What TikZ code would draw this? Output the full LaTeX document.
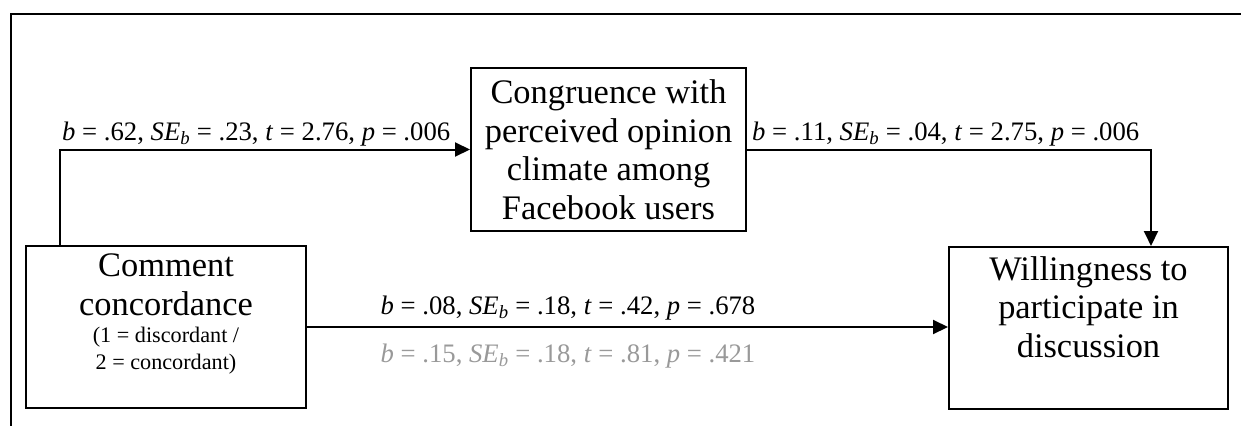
\documentclass[tikz,border=0pt]{standalone}
\usepackage{fontspec}
\setmainfont{Liberation Serif}
\usetikzlibrary{arrows.meta}

\newcommand{\boxfont}{\fontsize{34.4}{38.5}\selectfont}
\newcommand{\labfont}{\fontsize{26.7}{30}\selectfont}
\newcommand{\smallfont}{\fontsize{22.2}{27}\selectfont}
\newcommand{\stat}[4]{\textit{b} = #1, \textit{SE}\textsubscript{\textit{b}} = #2, \textit{t} = #3, \textit{p} = #4}
% invisible strut that adds depth below the last line of a box
\newcommand{\lowstrut}[1]{\rule[-#1]{0pt}{1pt}}

\tikzset{
  varbox/.style={draw, line width=2pt, rectangle, align=center, inner sep=0pt, font=\boxfont},
  arr/.style={line width=2pt, -{Triangle[length=15pt,width=14pt]}},
  lab/.style={inner sep=0pt, font=\labfont},
}

\begin{document}
\begin{tikzpicture}[x=1pt,y=-1pt]
  \useasboundingbox (0,0) rectangle (1241,426);

  % partial frame: top and left edge
  \draw[line width=2pt] (1241,14) -- (11,14) -- (11,426);

  % variables
  \node[varbox, text width=270pt, align=flush center, minimum width=280pt, minimum height=162pt] (cc) at (166,327)
    {Comment\\concordance\par
     {\smallfont (1 = discordant /\\2 = concordant)\lowstrut{31pt}\par}};
  \node[varbox, minimum width=275pt, minimum height=163pt] (cg) at (608.5,149.5)
    {Congruence with\\perceived opinion\\climate among\\Facebook users};
  \node[varbox, minimum width=279pt, minimum height=162pt] (wl) at (1088.5,328)
    {Willingness to\\participate in\\discussion\lowstrut{42pt}};

  % paths
  \draw[arr] ([xshift=35pt]cc.north west) |- (cg.west);
  \draw[arr] (cg.east) -| ([xshift=62.5pt]wl.north);
  \draw[arr] (cc.east) -- (wl.west |- cc.east);

  % coefficients
  \node[lab, anchor=base west] (la) at (62,140) {\stat{.62}{.23}{2.76}{.006}};
  \node[lab, anchor=base west] (lb) at (752,140) {\stat{.11}{.04}{2.75}{.006}};
  \node[lab, anchor=base] (lc) at (568,314) {\stat{.08}{.18}{.42}{.678}};
  \node[lab, anchor=base, text=black!40] (ld) at (568,362) {\stat{.15}{.18}{.81}{.421}};
\end{tikzpicture}
\end{document}
